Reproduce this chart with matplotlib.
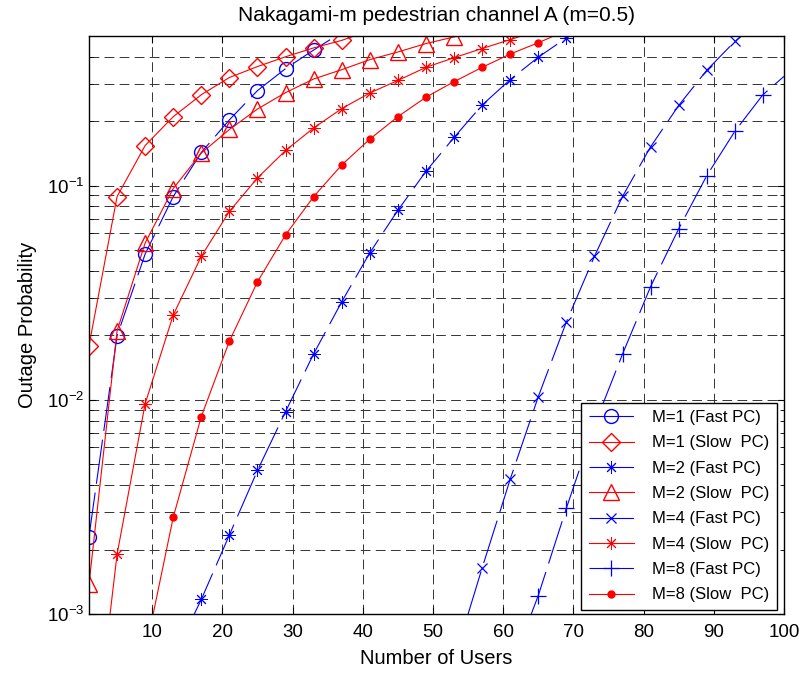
import matplotlib
matplotlib.use('Agg')
import matplotlib.pyplot as plt
import numpy as np
from matplotlib.ticker import LogLocator, NullFormatter, FixedLocator

plt.rcParams['font.family'] = ['Liberation Sans', 'DejaVu Sans']
plt.rcParams['axes.unicode_minus'] = False
plt.rcParams['mathtext.default'] = 'regular'
plt.rcParams['mathtext.fontset'] = 'custom'
plt.rcParams['mathtext.rm'] = 'Liberation Sans'

# ---------------- data ----------------
users_m1_fast = [1, 5, 9, 13, 17, 21, 25, 29, 33, 37]
pout_m1_fast = [0.0023, 0.0199, 0.048, 0.089, 0.143, 0.203, 0.278, 0.352, 0.43, 0.52]

users_m1_slow = [1, 5, 9, 13, 17, 21, 25, 29, 33, 37, 41]
pout_m1_slow = [0.0179, 0.089, 0.154, 0.21, 0.266, 0.32, 0.36, 0.40, 0.44, 0.477, 0.53]

users_m2_fast = [16, 17, 21, 25, 29, 33, 37, 41, 45, 49, 53, 57, 61, 65, 69, 73]
pout_m2_fast = [0.001, 0.00117, 0.00234, 0.00468, 0.00881, 0.0164, 0.0287, 0.0486,
                0.0768, 0.1167, 0.168, 0.238, 0.313, 0.398, 0.49, 0.58]

users_m2_slow = [1, 5, 9, 13, 17, 21, 25, 29, 33, 37, 41, 45, 49, 53, 57]
pout_m2_slow = [0.00138, 0.021, 0.054, 0.097, 0.142, 0.183, 0.228, 0.272, 0.315,
                0.348, 0.388, 0.421, 0.461, 0.495, 0.53]

users_m4_fast = [55, 57, 61, 65, 69, 73, 77, 81, 85, 89, 93, 97]
pout_m4_fast = [0.001, 0.00164, 0.00426, 0.01035, 0.0231, 0.0468, 0.0891, 0.152,
                0.237, 0.346, 0.472, 0.6]

users_m4_slow = [4, 5, 9, 13, 17, 21, 25, 29, 33, 37, 41, 45, 49, 53, 57, 61, 65]
pout_m4_slow = [0.001, 0.0019, 0.0096, 0.0249, 0.0468, 0.0759, 0.1087, 0.146, 0.186,
                0.229, 0.271, 0.310, 0.357, 0.396, 0.437, 0.481, 0.53]

users_m8_fast = [64, 65, 69, 73, 77, 81, 85, 89, 93, 97, 100]
pout_m8_fast = [0.001, 0.00122, 0.00312, 0.0076, 0.01636, 0.0338, 0.0629, 0.1114,
                0.1795, 0.266, 0.324]

users_m8_slow = [10, 13, 17, 21, 25, 29, 33, 37, 41, 45, 49, 53, 57, 61, 65, 69]
pout_m8_slow = [0.00095, 0.00283, 0.00836, 0.0188, 0.0356, 0.0589, 0.0889, 0.125,
                0.165, 0.21, 0.259, 0.306, 0.357, 0.412, 0.465, 0.53]

labels = ['M=1 (Fast PC)', 'M=1 (Slow  PC)', 'M=2 (Fast PC)', 'M=2 (Slow  PC)',
          'M=4 (Fast PC)', 'M=4 (Slow  PC)', 'M=8 (Fast PC)', 'M=8 (Slow  PC)']

x_ticks = [10, 20, 30, 40, 50, 60, 70, 80, 90, 100]
x_limits = (1, 100)
y_limits = (1e-3, 0.5)

# ---------------- plotting ----------------
BLUE = (0, 0, 1)
RED = (1, 0, 0)
fast_ls = (0, (40, 8))

star = (8, 2, 0)
series = [
    (users_m1_fast, pout_m1_fast, BLUE, fast_ls, dict(marker='o', ms=10, mfc='none')),
    (users_m1_slow, pout_m1_slow, RED, '-', dict(marker='D', ms=9, mfc='none')),
    (users_m2_fast, pout_m2_fast, BLUE, fast_ls, dict(marker=star, ms=9, mew=0.7)),
    (users_m2_slow, pout_m2_slow, RED, '-', dict(marker='^', ms=11, mfc='none')),
    (users_m4_fast, pout_m4_fast, BLUE, fast_ls, dict(marker='x', ms=6.5, mew=0.9)),
    (users_m4_slow, pout_m4_slow, RED, '-', dict(marker=star, ms=9, mew=0.7)),
    (users_m8_fast, pout_m8_fast, BLUE, fast_ls, dict(marker='+', ms=12, mew=0.9)),
    (users_m8_slow, pout_m8_slow, RED, '-', dict(marker='o', ms=5, mfc=RED)),
]

fig = plt.figure(figsize=(8.04, 6.77), dpi=100)
ax = fig.add_axes([89 / 804, 1 - 614 / 677, (784 - 89) / 804, (614 - 36) / 677])

for (xs, ys, col, ls, mk), lab in zip(series, labels):
    xs = np.asarray(xs)
    ys = np.asarray(ys)
    every = [i for i in range(len(xs))
             if (xs[i] - 1) % 4 == 0 and y_limits[0] <= ys[i] <= y_limits[1]]
    ax.plot(xs, ys, color=col, linestyle=ls, lw=0.8, mec=col,
            markevery=every, label=lab, **mk)

ax.set_yscale('log')
ax.set_xlim(*x_limits)
ax.set_ylim(*y_limits)
ax.xaxis.set_major_locator(FixedLocator(x_ticks))
ax.yaxis.set_major_locator(LogLocator(base=10, numticks=10))
ax.yaxis.set_minor_locator(LogLocator(base=10, subs=np.arange(2, 10), numticks=20))
ax.yaxis.set_minor_formatter(NullFormatter())

grid_kw = dict(color='#333333', linestyle=(0, (10, 5.5)), linewidth=0.7)
ax.grid(True, which='both', axis='y', **grid_kw)
ax.grid(True, which='major', axis='x', **grid_kw)
ax.set_axisbelow(True)

ax.tick_params(which='both', direction='in', top=True, right=True, labelsize=13.5)
ax.tick_params(which='major', length=5)
ax.tick_params(which='minor', length=3)
ax.tick_params(axis='x', which='major', pad=7)
for s in ax.spines.values():
    s.set_linewidth(1.0)

ax.set_title('Nakagami-m pedestrian channel A (m=0.5)', fontsize=15, pad=11)
ax.set_xlabel('Number of Users', fontsize=14.5, labelpad=6)
ax.set_ylabel('Outage Probability', fontsize=14.5, labelpad=7)

leg = ax.legend(loc='lower right', bbox_to_anchor=(0.99, 0.007), borderaxespad=0,
                fontsize=12, handlelength=2.7, handletextpad=1.1, borderpad=0.45,
                labelspacing=0.62, fancybox=False, framealpha=1, edgecolor='black')
leg.get_frame().set_linewidth(1.0)

fig.savefig('out.png', dpi=100)
